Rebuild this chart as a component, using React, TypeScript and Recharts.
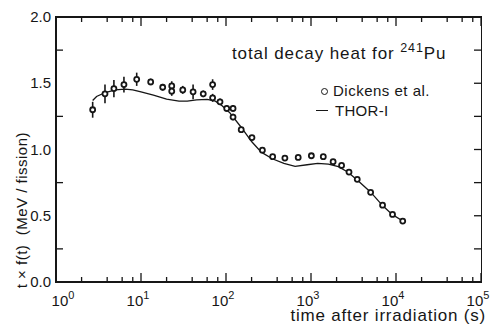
import React from 'react';
import {
  ComposedChart,
  Scatter,
  ErrorBar,
  XAxis,
  YAxis,
} from 'recharts';

// Dickens et al. measurements: time (s), t*f(t) (MeV/fission), error
const dickensT = [2.7, 3.77, 4.8, 6.3, 8.9, 13, 18, 23, 23, 31, 41, 54, 69.6, 69.6, 85, 102, 121, 121, 151, 202, 268, 354, 493, 707, 1010, 1395, 1820, 2290, 2800, 3500, 5030, 6950, 9100, 12000];
const dickensY = [1.3, 1.42, 1.46, 1.49, 1.53, 1.51, 1.47, 1.48, 1.44, 1.45, 1.435, 1.42, 1.49, 1.39, 1.36, 1.31, 1.31, 1.245, 1.15, 1.09, 0.995, 0.946, 0.935, 0.94, 0.953, 0.946, 0.908, 0.88, 0.83, 0.775, 0.677, 0.58, 0.51, 0.46];
const dickensErr = [0.06, 0.07, 0.065, 0.06, 0.05, 0.025, 0.025, 0.035, 0.035, 0.03, 0.055, 0.025, 0.04, 0.03, 0.025, 0.025, 0.025, 0.025, 0.02, 0.015, 0.015, 0.015, 0.015, 0.015, 0.015, 0.015, 0.015, 0.012, 0.012, 0.01, 0.01, 0.01, 0.01, 0.01];

// THOR-I calculation
const thorT = [2.7, 3, 3.8, 5, 6.5, 8, 10, 14, 20, 28, 35, 45, 60, 75, 90, 110, 150, 200, 260, 350, 480, 650, 900, 1200, 1600, 2100, 2700, 3500, 5000, 7000, 9000, 12000];
const thorY = [1.37, 1.4, 1.43, 1.45, 1.455, 1.45, 1.435, 1.41, 1.38, 1.365, 1.365, 1.375, 1.378, 1.365, 1.33, 1.28, 1.17, 1.06, 0.98, 0.93, 0.895, 0.873, 0.885, 0.895, 0.89, 0.87, 0.83, 0.77, 0.68, 0.575, 0.51, 0.46];

const xTicks = [1, 2, 4, 6, 8, 10, 20, 40, 60, 80, 100, 200, 400, 600, 800, 1000, 2000, 4000, 6000, 8000, 10000, 20000, 40000, 60000, 80000, 100000];
const yTicks = [0, 0.25, 0.5, 0.75, 1, 1.25, 1.5, 1.75, 2];

const INK = '#161616';
const FONT = '"Liberation Sans", Arial, sans-serif';
const PLOT_W = 425;
const PLOT_H = 265;
const TW = 1.3; // tick thickness

const dickens = dickensT.map((t, i) => ({ t, y: dickensY[i], err: dickensErr[i] }));
const thor = thorT.map((t, i) => ({ t, y: thorY[i] }));

const isMajor = (v: number) => Math.abs(Math.log10(v) - Math.round(Math.log10(v))) < 1e-6;

// inward ticks drawn as small filled rects, bottom + matching top frame
const BottomTick = ({ x, y, payload }: any) => {
  const v = payload.value;
  const major = isMajor(v);
  const len = major ? 9 : 5;
  const exp = Math.round(Math.log10(v));
  const cx = v === 1 ? x + 7 : x - 3;
  return (
    <g>
      <rect x={x - TW / 2} y={y - len} width={TW} height={len} fill={INK} />
      <rect x={x - TW / 2} y={y - PLOT_H} width={TW} height={len} fill={INK} />
      {major && (
        <text x={cx} y={y + 24} textAnchor="middle" fill={INK} fontFamily={FONT} fontSize={15}>
          10<tspan dy={-7} fontSize={11}>{exp}</tspan>
        </text>
      )}
    </g>
  );
};

const LeftTick = ({ x, y, payload }: any) => {
  const v = payload.value;
  const labelled = Math.abs(v * 2 - Math.round(v * 2)) < 1e-6;
  return (
    <g>
      {!labelled && <rect x={x} y={y - TW / 2} width={7} height={TW} fill={INK} />}
      <rect x={x + PLOT_W - 7} y={y - TW / 2} width={7} height={TW} fill={INK} />
      {labelled && (
        <text x={x - 5} y={y + 5} textAnchor="end" fill={INK} fontFamily={FONT} fontSize={15}>
          {v.toFixed(1)}
        </text>
      )}
    </g>
  );
};

const OpenDot = ({ cx, cy }: any) => (
  <circle cx={cx} cy={cy} r={2.5} fill="#fff" stroke={INK} strokeWidth={1.8} />
);

const NoDot = () => <g />;

const txt = (extra: React.CSSProperties): React.CSSProperties => ({
  position: 'absolute',
  fontFamily: FONT,
  color: INK,
  whiteSpace: 'nowrap',
  lineHeight: 1,
  ...extra,
});

export default function App() {
  return (
    <div style={{ position: 'absolute', left: 0, top: 0, width: 492, height: 333 }}>
      <ComposedChart width={492} height={333} margin={{ top: 17, right: 11, bottom: 0, left: 0 }}>
        <XAxis
          xAxisId="bottom"
          dataKey="t"
          type="number"
          scale="log"
          domain={[1, 100000]}
          ticks={xTicks}
          interval={0}
          height={51}
          tickSize={0}
          tickMargin={0}
          tick={<BottomTick />}
          axisLine={false}
        />
        <YAxis
          yAxisId="left"
          dataKey="y"
          type="number"
          domain={[0, 2]}
          ticks={yTicks}
          interval={0}
          width={56}
          tickSize={0}
          tickMargin={0}
          tick={<LeftTick />}
          axisLine={false}
        />
        <Scatter
          xAxisId="bottom"
          yAxisId="left"
          data={thor}
          line={{ stroke: INK, strokeWidth: 1.3 }}
          lineType="joint"
          shape={<NoDot />}
          isAnimationActive={false}
        />
        <Scatter
          xAxisId="bottom"
          yAxisId="left"
          data={dickens}
          shape={<OpenDot />}
          isAnimationActive={false}
        >
          <ErrorBar dataKey="err" direction="y" width={0} stroke={INK} strokeWidth={1.6} />
        </Scatter>
      </ComposedChart>
      {/* plot frame */}
      <div
        style={{
          position: 'absolute',
          left: 55,
          top: 16,
          width: 427,
          height: 267,
          boxSizing: 'border-box',
          borderStyle: 'solid',
          borderColor: INK,
          borderWidth: '2px 1.5px 2px 2px',
          pointerEvents: 'none',
        }}
      />
      <div style={txt({ left: 232, top: 45, fontSize: 17, letterSpacing: 0.9 })}>
        total decay heat for <sup style={{ fontSize: 12.5, verticalAlign: 0, position: 'relative', top: -7 }}>241</sup>Pu
      </div>
      <div style={txt({ left: 321, top: 83, fontSize: 15, letterSpacing: 0.5 })}>
        <span
          style={{
            display: 'inline-block',
            width: 5,
            height: 5,
            border: `1.5px solid ${INK}`,
            borderRadius: '50%',
            marginRight: 5,
            verticalAlign: 1,
          }}
        />
        Dickens et al.
      </div>
      <div style={txt({ left: 316, top: 103, fontSize: 15, letterSpacing: 0.3 })}>
        <span
          style={{
            display: 'inline-block',
            width: 12,
            height: 0,
            borderTop: `1.3px solid ${INK}`,
            marginRight: 7,
            verticalAlign: 5,
          }}
        />
        THOR-I
      </div>
      <div style={txt({ right: 6, top: 307, fontSize: 17, letterSpacing: 0.8 })}>
        time after irradiation (s)
      </div>
      <div
        style={txt({
          left: 21,
          top: 132,
          fontSize: 15,
          letterSpacing: 0.5,
          transform: 'translate(-100%, -50%) rotate(-90deg)',
          transformOrigin: '100% 50%',
        })}
      >
        t × f(t)&nbsp;&nbsp;(MeV / fission)
      </div>
    </div>
  );
}
